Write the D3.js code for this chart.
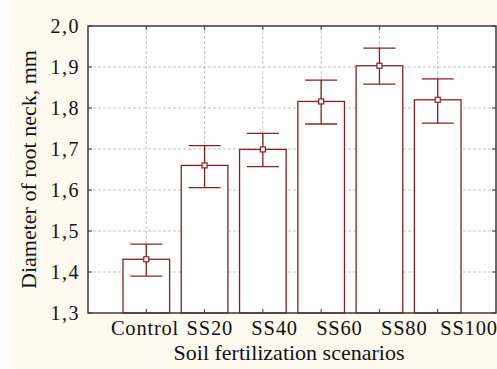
<!DOCTYPE html>
<html>
<head>
<meta charset="utf-8">
<script src="https://cdn.jsdelivr.net/npm/d3@7"></script>
<style>
	body { margin: 0; background: #fff; }
	svg { display: block; }
	text { font-family: "Liberation Serif", "Times New Roman", serif; fill: #111; }
</style>
</head>
<body>
<div id="forSvg"></div>
<script>
	var categories = ["Control", "SS20", "SS40", "SS60", "SS80", "SS100"];
	var means = [1.431, 1.660, 1.699, 1.816, 1.903, 1.820];
	var errLow = [1.390, 1.606, 1.657, 1.761, 1.858, 1.763];
	var errHigh = [1.468, 1.708, 1.738, 1.868, 1.946, 1.871];
	var yTicks = [1.3, 1.4, 1.5, 1.6, 1.7, 1.8, 1.9, 2.0];

	var width = 497, height = 369;
	var plotL = 88, plotR = 496, plotT = 26, plotB = 313;
	var red = "#8e1c1f";

	var chart = d3.select("#forSvg").append("svg")
		.attr("width", width)
		.attr("height", height);

	// cream background
	chart.append("rect")
		.attr("x", 9).attr("y", 0)
		.attr("width", width - 9).attr("height", height)
		.attr("fill", "#fefaef");

	var x = d3.scaleLinear().domain([0, categories.length + 1]).range([plotL, plotR]);
	var y = d3.scaleLinear().domain([1.3, 2.0]).range([plotB, plotT]);
	// category labels are spread a little wider than the bars
	var xLab = d3.scaleLinear().domain([1, categories.length]).range([145, 469]);
	var step = x(1) - x(0);
	var barW = step * 0.8;

	chart.append("rect")
		.attr("x", plotL).attr("y", plotT)
		.attr("width", plotR - plotL).attr("height", plotB - plotT)
		.attr("fill", "#fff");

	// grid
	chart.append("g").selectAll("line")
		.data(yTicks.slice(1, -1))
		.enter().append("line")
		.attr("x1", plotL).attr("x2", plotR)
		.attr("y1", function(d) { return y(d); })
		.attr("y2", function(d) { return y(d); })
		.attr("stroke", "#c4c4c4")
		.attr("stroke-dasharray", "3,2");

	chart.append("g").selectAll("line")
		.data(categories)
		.enter().append("line")
		.attr("x1", function(d, i) { return x(i + 1); })
		.attr("x2", function(d, i) { return x(i + 1); })
		.attr("y1", plotT).attr("y2", plotB)
		.attr("stroke", "#c4c4c4")
		.attr("stroke-dasharray", "3,2");

	// bars
	chart.append("g").selectAll("rect")
		.data(means)
		.enter().append("rect")
		.attr("x", function(d, i) { return x(i + 1) - barW / 2; })
		.attr("y", function(d) { return y(d); })
		.attr("width", barW)
		.attr("height", function(d) { return plotB - y(d); })
		.attr("fill", "#fff")
		.attr("stroke", red)
		.attr("stroke-width", 1.3);

	// error bars
	var capW = 32;
	var eb = chart.append("g").attr("stroke", red).attr("stroke-width", 1.3);
	eb.selectAll("line.v")
		.data(means)
		.enter().append("line")
		.attr("class", "v")
		.attr("x1", function(d, i) { return x(i + 1); })
		.attr("x2", function(d, i) { return x(i + 1); })
		.attr("y1", function(d, i) { return y(errHigh[i]); })
		.attr("y2", function(d, i) { return y(errLow[i]); });
	eb.selectAll("line.hi")
		.data(errHigh)
		.enter().append("line")
		.attr("class", "hi")
		.attr("x1", function(d, i) { return x(i + 1) - capW / 2; })
		.attr("x2", function(d, i) { return x(i + 1) + capW / 2; })
		.attr("y1", function(d) { return y(d); })
		.attr("y2", function(d) { return y(d); });
	eb.selectAll("line.lo")
		.data(errLow)
		.enter().append("line")
		.attr("class", "lo")
		.attr("x1", function(d, i) { return x(i + 1) - capW / 2; })
		.attr("x2", function(d, i) { return x(i + 1) + capW / 2; })
		.attr("y1", function(d) { return y(d); })
		.attr("y2", function(d) { return y(d); });

	// mean markers
	chart.append("g").selectAll("rect")
		.data(means)
		.enter().append("rect")
		.attr("x", function(d, i) { return x(i + 1) - 2.5; })
		.attr("y", function(d) { return y(d) - 2.5; })
		.attr("width", 5).attr("height", 5)
		.attr("fill", "#fff")
		.attr("stroke", red)
		.attr("stroke-width", 1.2);

	// frame and inner ticks
	var frame = chart.append("g").attr("stroke", "#3a3a3a");
	frame.append("rect")
		.attr("x", plotL).attr("y", plotT)
		.attr("width", plotR - plotL).attr("height", plotB - plotT)
		.attr("fill", "none")
		.attr("stroke-width", 1.5);
	yTicks.forEach(function(t) {
		frame.append("line").attr("x1", plotL).attr("x2", plotL + 4)
			.attr("y1", y(t)).attr("y2", y(t));
		frame.append("line").attr("x1", plotR - 4).attr("x2", plotR)
			.attr("y1", y(t)).attr("y2", y(t));
	});
	categories.forEach(function(c, i) {
		frame.append("line").attr("x1", x(i + 1)).attr("x2", x(i + 1))
			.attr("y1", plotT).attr("y2", plotT + 4);
		frame.append("line").attr("x1", x(i + 1)).attr("x2", x(i + 1))
			.attr("y1", plotB - 4).attr("y2", plotB);
	});

	// tick labels
	var fmt = function(d) { return d3.format(".1f")(d).replace(".", ","); };
	chart.append("g").selectAll("text")
		.data(yTicks)
		.enter().append("text")
		.attr("x", 80)
		.attr("y", function(d) { return y(d); })
		.attr("dy", "0.35em")
		.attr("text-anchor", "end")
		.style("font-size", "20px")
		.style("letter-spacing", "1.5px")
		.text(fmt);

	chart.append("g").selectAll("text")
		.data(categories)
		.enter().append("text")
		.attr("x", function(d, i) { return xLab(i + 1); })
		.attr("y", 335)
		.attr("text-anchor", "middle")
		.style("font-size", "20.5px")
		.style("letter-spacing", "0.8px")
		.text(function(d) { return d; });

	// axis titles
	chart.append("text")
		.attr("x", (plotL + plotR) / 2 - 3)
		.attr("y", 360)
		.attr("text-anchor", "middle")
		.style("font-size", "22px")
		.text("Soil fertilization scenarios");

	chart.append("text")
		.attr("transform", "translate(36," + ((plotT + plotB) / 2) + ") rotate(-90)")
		.attr("text-anchor", "middle")
		.style("font-size", "22px")
		.text("Diameter of root neck, mm");
</script>
</body>
</html>
